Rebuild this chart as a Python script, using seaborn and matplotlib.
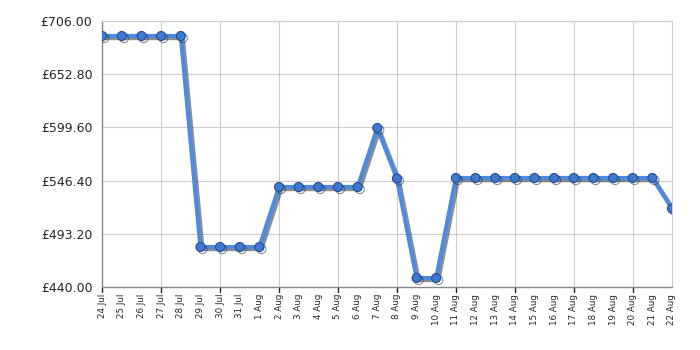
import matplotlib
matplotlib.use("Agg")
import matplotlib.pyplot as plt
import matplotlib.patheffects as pe
import seaborn as sns
import pandas as pd
import numpy as np

dates = ["24 Jul", "25 Jul", "26 Jul", "27 Jul", "28 Jul", "29 Jul", "30 Jul", "31 Jul",
         "1 Aug", "2 Aug", "3 Aug", "4 Aug", "5 Aug", "6 Aug", "7 Aug", "8 Aug", "9 Aug",
         "10 Aug", "11 Aug", "12 Aug", "13 Aug", "14 Aug", "15 Aug", "16 Aug", "17 Aug",
         "18 Aug", "19 Aug", "20 Aug", "21 Aug", "22 Aug"]
prices = [691, 691, 691, 691, 691, 480, 480, 480, 480, 540, 540, 540, 540, 540, 599,
          548.5, 449, 449, 549, 549, 549, 549, 549, 549, 549, 549, 549, 549, 549, 518.5]
y_ticks = [440.00, 493.20, 546.40, 599.60, 652.80, 706.00]

df = pd.DataFrame({"idx": np.arange(len(dates)), "price": prices})

sns.set_style("white")
plt.rcParams["font.family"] = ["DejaVu Sans"]

fig = plt.figure(figsize=(7, 3.5), dpi=100)
ax = fig.add_axes([0.146, 0.18, 0.814, 0.76])

sns.lineplot(data=df, x="idx", y="price", ax=ax, color="#4f8ae0", linewidth=3,
             marker="o", markersize=6.5, markerfacecolor="#3f78cc",
             markeredgecolor="#1f4f99", markeredgewidth=0.8,
             path_effects=[pe.SimpleLineShadow(offset=(1.5, -1.5), shadow_color="#333333", alpha=0.55),
                           pe.Normal()], zorder=3)

ax.set_xlim(0, len(dates) - 1)
ax.set_ylim(440, 706)
ax.set_yticks(y_ticks)
ax.set_yticklabels([f"£{v:.2f}" for v in y_ticks], fontsize=9)
ax.set_xticks(np.arange(len(dates)))
ax.set_xticklabels(dates, rotation=90, fontsize=6.3)
ax.set_xlabel("")
ax.set_ylabel("")

ax.tick_params(axis="x", length=0, pad=5)
ax.tick_params(axis="y", length=5, width=1, color="#444444", pad=2)
for i in range(0, len(dates), 3):
    ax.axvline(i, color="#cccccc", linewidth=0.8, zorder=0)
    ax.plot([i, i], [0, -0.02], transform=ax.get_xaxis_transform(), color="#222222",
            linewidth=1, clip_on=False)
for v in y_ticks:
    ax.axhline(v, color="#cccccc", linewidth=0.8, zorder=0)

for s in ["top", "right"]:
    ax.spines[s].set_color("#cccccc")
    ax.spines[s].set_linewidth(0.8)
for s in ["left", "bottom"]:
    ax.spines[s].set_color("#888888")
    ax.spines[s].set_linewidth(1)

fig.savefig("out.png", dpi=100)
